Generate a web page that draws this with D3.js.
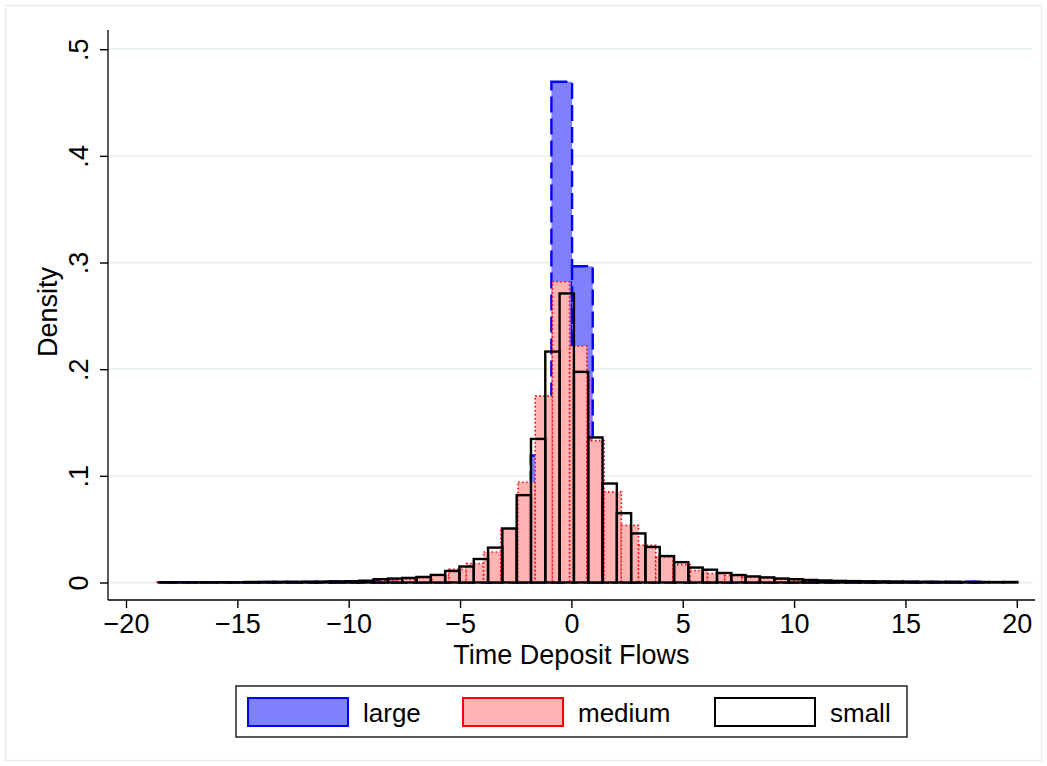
<!DOCTYPE html>
<html>
<head>
<meta charset="utf-8">
<script src="https://cdn.jsdelivr.net/npm/d3@7"></script>
<style>
  body { margin: 0; background: #fff; }
  svg { display: block; font-family: "Liberation Sans", Arial, Helvetica, sans-serif; }
</style>
</head>
<body>
<div id="chart"></div>
<script>
// histogram data: each series has its own range [min, max], equal-width bins
const seriesNames = ["large", "medium", "small"];

const largeRange = [-18.53, 18.59];
const largeDensity = [
  0.0003, 0.0002, 0.0002, 0.0003, 0.0003, 0.0004, 0.0005, 0.0006, 0.0008, 0.0010,
  0.0012, 0.0015, 0.0020, 0.0030, 0.0050, 0.0080, 0.0150, 0.0400, 0.1190, 0.4695,
  0.2965, 0.0800, 0.0250, 0.0100, 0.0060, 0.0040, 0.0030, 0.0022, 0.0016, 0.0012,
  0.0010, 0.0008, 0.0007, 0.0006, 0.0005, 0.0005, 0.0004, 0.0004, 0.0005, 0.0007
];

const mediumRange = [-18.64, 20.03];
const mediumDensity = [
  0.0003, 0.0002, 0.0002, 0.0002, 0.0003, 0.0003, 0.0003, 0.0004, 0.0005, 0.0006,
  0.0008, 0.0010, 0.0014, 0.0020, 0.0031, 0.0043, 0.0068, 0.0124, 0.0178, 0.0286,
  0.0510, 0.0940, 0.1750, 0.2820, 0.2218, 0.1330, 0.0850, 0.0536, 0.0349, 0.0239,
  0.0168, 0.0112, 0.0084, 0.0065, 0.0050, 0.0040, 0.0031, 0.0022, 0.0016, 0.0012,
  0.0010, 0.0008, 0.0007, 0.0006, 0.0005, 0.0004, 0.0004, 0.0003, 0.0003, 0.0003
];

const smallRange = [-18.52, 20.03];
const smallDensity = [
  0.0002, 0.0001, 0.0001, 0.0001, 0.0002, 0.0001, 0.0005, 0.0005, 0.0006, 0.0006,
  0.0007, 0.0008, 0.0010, 0.0012, 0.0017, 0.0031, 0.0037, 0.0043, 0.0052, 0.0071,
  0.0108, 0.0150, 0.0220, 0.0327, 0.0506, 0.0819, 0.1346, 0.2165, 0.2710, 0.1975,
  0.1360, 0.0928, 0.0650, 0.0460, 0.0333, 0.0248, 0.0190, 0.0140, 0.0120, 0.0089,
  0.0070, 0.0057, 0.0048, 0.0037, 0.0031, 0.0024, 0.0019, 0.0015, 0.0013, 0.0011,
  0.0010, 0.0009, 0.0008, 0.0007, 0.0006, 0.0006, 0.0005, 0.0005, 0.0004, 0.0005
];

const xTicks = [-20, -15, -10, -5, 0, 5, 10, 15, 20];
const yTicks = [0, 0.1, 0.2, 0.3, 0.4, 0.5];
const yTickLabels = ["0", ".1", ".2", ".3", ".4", ".5"];
const xTitle = "Time Deposit Flows";
const yTitle = "Density";

const width = 1047;
const height = 766;
const plot = {left: 108, right: 1035, top: 30, bottom: 600};

const styles = {
  large: {fill: "#8080ff", stroke: "#0000ff", width: 2.4, dash: "16,6"},
  medium: {fill: "#ffb3b3", stroke: "#ff0000", width: 1.6, dash: "1.5,2.5"},
  small: {fill: "none", stroke: "#000000", width: 2.4, dash: null}
};

const series = [
  {name: "large", range: largeRange, values: largeDensity},
  {name: "medium", range: mediumRange, values: mediumDensity},
  {name: "small", range: smallRange, values: smallDensity}
];

const x = d3.scaleLinear().domain([-20, 20]).range([126, 1016.8]);
const y = d3.scaleLinear().domain([0, 0.5]).range([582.5, 49.2]);

const svg = d3.select("#chart").append("svg")
  .attr("width", width)
  .attr("height", height);

svg.append("rect")
  .attr("x", 5.5).attr("y", 5.5)
  .attr("width", width - 11).attr("height", height - 11)
  .attr("fill", "#fff")
  .attr("stroke", "#e6eef0")
  .attr("stroke-width", 1.5);

// gridlines
svg.append("g")
  .selectAll("line")
  .data(yTicks)
  .join("line")
  .attr("x1", plot.left).attr("x2", plot.right - 2)
  .attr("y1", d => y(d)).attr("y2", d => y(d))
  .attr("stroke", "#e7f0f2")
  .attr("stroke-width", 1.8);

// bars
for (let s of series) {
  let st = styles[s.name];
  let n = s.values.length;
  let w = (s.range[1] - s.range[0]) / n;
  let bins = s.values.map((v, i) => ({
    x0: s.range[0] + i * w,
    x1: s.range[0] + (i + 1) * w,
    v: v
  }));

  svg.append("g")
    .attr("class", "series-" + s.name)
    .selectAll("rect")
    .data(bins)
    .join("rect")
    .attr("x", d => x(d.x0))
    .attr("width", d => x(d.x1) - x(d.x0))
    .attr("y", d => y(d.v))
    .attr("height", d => y(0) - y(d.v))
    .attr("fill", st.fill)
    .attr("stroke", st.stroke)
    .attr("stroke-width", st.width)
    .attr("stroke-dasharray", st.dash);
}

// axes
const yAxis = svg.append("g")
  .attr("transform", `translate(${plot.left},0)`)
  .call(d3.axisLeft(y)
    .tickValues(yTicks)
    .tickFormat((d, i) => yTickLabels[i])
    .tickSize(8)
    .tickSizeOuter(0));
yAxis.select(".domain").remove();
yAxis.selectAll(".tick line").attr("stroke", "#000").attr("stroke-width", 1.4);
yAxis.selectAll(".tick text")
  .attr("x", null)
  .attr("dy", null)
  .attr("text-anchor", "middle")
  .attr("transform", "translate(-20,0) rotate(-90)")
  .attr("fill", "#000")
  .style("font-size", "27px");

const xAxis = svg.append("g")
  .attr("transform", `translate(0,${plot.bottom})`)
  .call(d3.axisBottom(x)
    .tickValues(xTicks)
    .tickFormat(d => d < 0 ? "\u2212" + Math.abs(d) : String(d))
    .tickSize(8)
    .tickSizeOuter(0));
xAxis.select(".domain").remove();
xAxis.selectAll(".tick line").attr("stroke", "#000").attr("stroke-width", 1.4);
xAxis.selectAll(".tick text")
  .attr("y", 33)
  .attr("dy", null)
  .attr("fill", "#000")
  .style("font-size", "27px");

svg.append("line")
  .attr("x1", plot.left).attr("x2", plot.left)
  .attr("y1", plot.top).attr("y2", plot.bottom)
  .attr("stroke", "#000").attr("stroke-width", 1.3);
svg.append("line")
  .attr("x1", plot.left).attr("x2", plot.right)
  .attr("y1", plot.bottom).attr("y2", plot.bottom)
  .attr("stroke", "#000").attr("stroke-width", 1.3);

// titles
svg.append("text")
  .attr("x", (x(-20) + x(20)) / 2)
  .attr("y", 664)
  .attr("text-anchor", "middle")
  .style("font-size", "27px")
  .text(xTitle);

svg.append("text")
  .attr("transform", `translate(57,${(plot.top + plot.bottom) / 2 - 3}) rotate(-90)`)
  .attr("text-anchor", "middle")
  .style("font-size", "27px")
  .text(yTitle);

// legend
const legend = svg.append("g").attr("transform", "translate(236,686)");
legend.append("rect")
  .attr("width", 671).attr("height", 51)
  .attr("fill", "#fff")
  .attr("stroke", "#000").attr("stroke-width", 1.3);

const keyX = [12, 227, 479];
const item = legend.selectAll("g.item")
  .data(seriesNames)
  .join("g")
  .attr("class", "item")
  .attr("transform", (d, i) => `translate(${keyX[i]},12)`);

item.append("rect")
  .attr("width", 100).attr("height", 28)
  .attr("fill", d => styles[d].fill === "none" ? "#fff" : styles[d].fill)
  .attr("stroke", d => styles[d].stroke)
  .attr("stroke-width", 2);

item.append("text")
  .attr("x", 115)
  .attr("y", 24)
  .style("font-size", "26px")
  .text(d => d);
</script>
</body>
</html>
